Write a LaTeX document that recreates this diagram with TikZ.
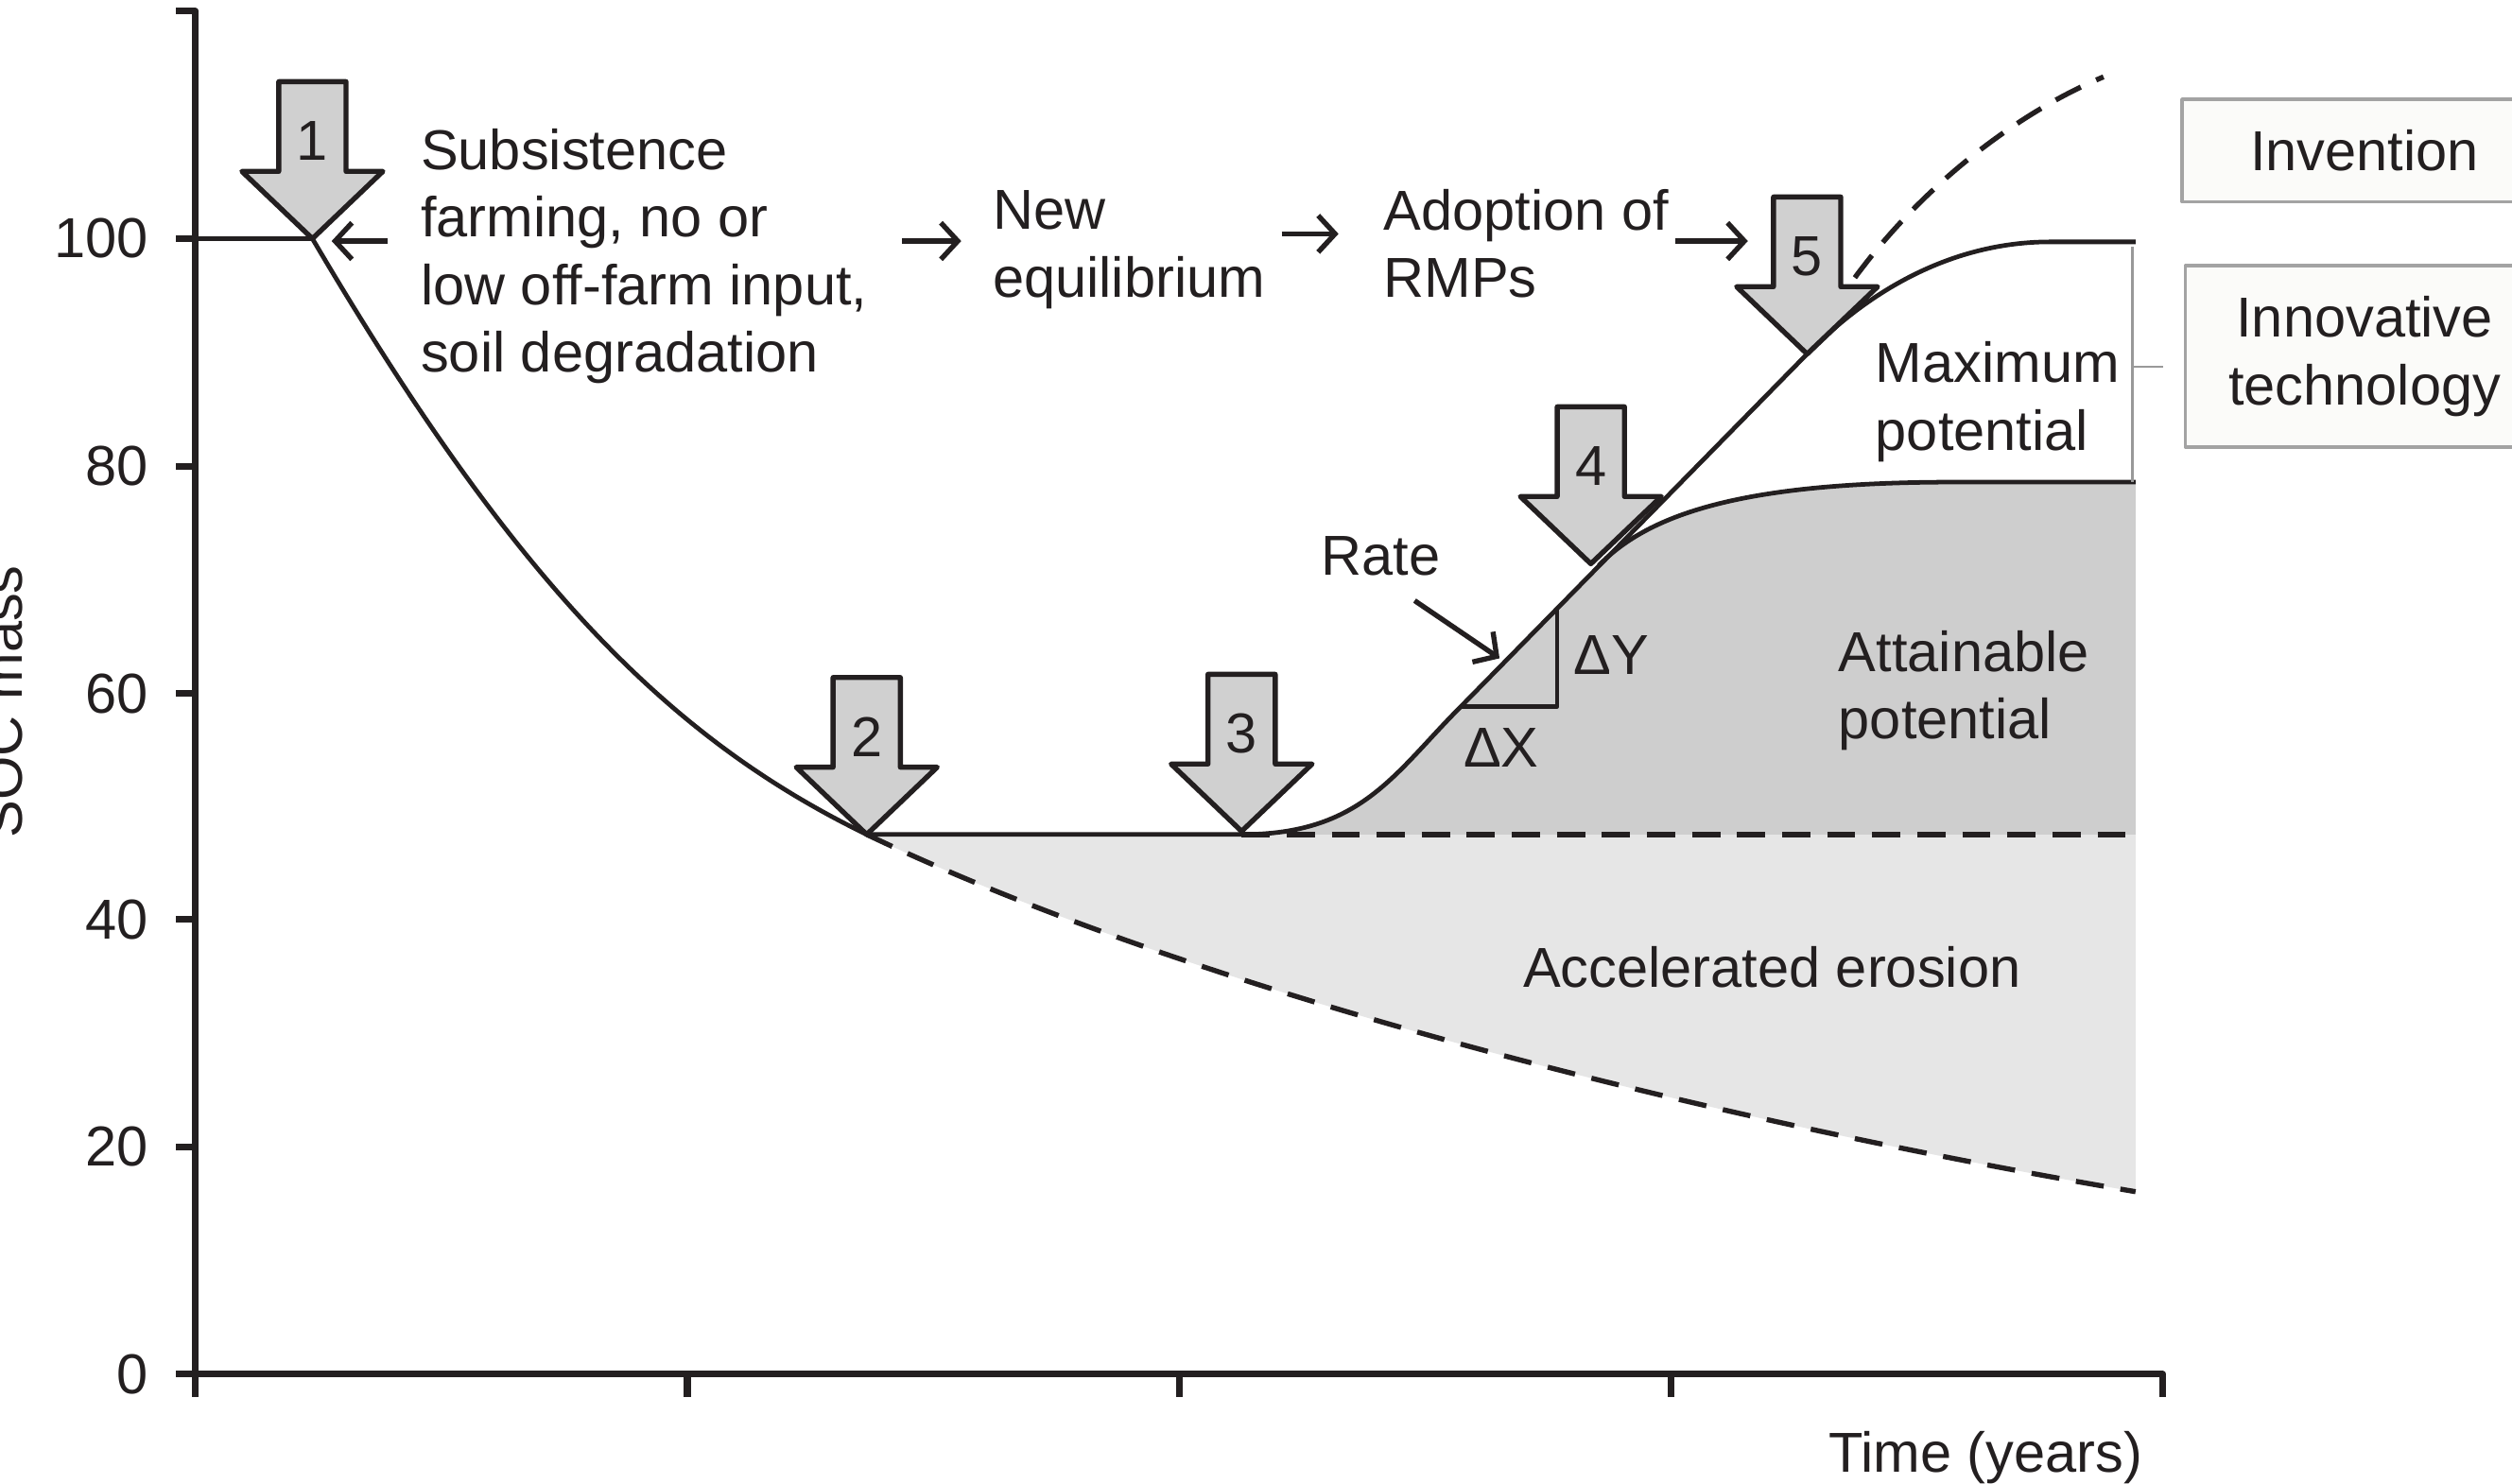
\documentclass[tikz,border=0pt]{standalone}
\usepackage{fontspec}
\setmainfont{Liberation Sans}
\usetikzlibrary{arrows.meta}
\definecolor{inkcol}{HTML}{231F20}
\definecolor{attfill}{HTML}{CECECE}
\definecolor{erofill}{HTML}{E6E6E6}
\definecolor{arrfill}{HTML}{D0D0D0}
\definecolor{boxline}{HTML}{A3A3A3}
\definecolor{boxfill}{HTML}{FBFBF9}
\begin{document}
\begin{tikzpicture}[line join=round, font=\fontsize{10}{12}\selectfont,
  txt/.style={inner sep=0pt, align=left, text=inkcol},
  tick label/.style={inner sep=0pt, anchor=east, text=inkcol},
  soc line/.style={draw=inkcol, line width=0.8pt},
  dashed line/.style={draw=inkcol, line width=0.9pt, dash pattern=on 5pt off 3pt},
  axis line/.style={draw=inkcol, line width=1.2pt},
  bracket line/.style={draw=gray!80, line width=0.4pt},
  small arrow/.style={draw=inkcol, line width=0.9pt, -{Straight Barb[length=3pt,width=6.5pt]}},
  tech box/.style={draw=boxline, fill=boxfill, line width=0.6pt, inner sep=0pt, align=center, text=inkcol},
  pics/soc arrow/.style={code={
    \draw[draw=inkcol, fill=arrfill, line width=0.9pt] (0,0) -- (-0.44,0.42) -- (-0.21,0.42) -- (-0.21,0.98) -- (0.21,0.98) -- (0.21,0.42) -- (0.44,0.42) -- cycle;
    \node[inner sep=0pt, text=inkcol] (-n) at (0,0.61) {#1};
  }}]
\useasboundingbox (0,0) rectangle (15.68,9.26);
% points on the curves
\coordinate (y100) at (1.22,7.77);
\coordinate (p1) at (1.95,7.77);
\coordinate (p2) at (5.41,4.05);
\coordinate (p3) at (7.75,4.05);
\coordinate (t1) at (9.12,4.85);
\coordinate (t2) at (9.72,4.85);
\coordinate (t3) at (9.72,5.46);
\coordinate (sp) at (9.98,5.73);
\coordinate (p5) at (11.28,7.05);
\coordinate (endtop) at (13.33,7.75);
\coordinate (endatt) at (13.33,6.25);
\coordinate (endeq) at (13.33,4.05);
\coordinate (endero) at (13.33,1.82);
\coordinate (endinv) at (13.13,8.78);
% shaded areas
\fill[erofill] (p2) -- (endeq) -- (endero) .. controls (10.5,2.3) and (7.4,3.1) .. (p2) -- cycle;
\fill[attfill] (p3) .. controls (8.5,4.05) and (8.7,4.43) .. (t1) -- (sp) .. controls (10.3,6.06) and (10.9,6.25) .. (12.2,6.25) -- (endatt) -- (endeq) -- cycle;
% dashed lines
\draw[dashed line] (p3) -- (endeq);
\draw[dashed line] (p2) .. controls (7.4,3.1) and (10.5,2.3) .. (endero);
\draw[dashed line] (p5) .. controls (11.75,7.95) and (12.55,8.54) .. (endinv);
% solid lines
\draw[soc line] (y100) -- (p1) .. controls (3.25,5.56) and (4.22,4.63) .. (p2) -- (p3);
\draw[soc line] (p3) .. controls (8.5,4.05) and (8.7,4.43) .. (t1) -- (p5) .. controls (11.68,7.46) and (12.2,7.75) .. (12.8,7.75) -- (endtop);
\draw[soc line] (sp) .. controls (10.3,6.06) and (10.9,6.25) .. (12.2,6.25) -- (endatt);
\draw[soc line] (t1) -- (t2) -- (t3);
% axes
\draw[axis line] (1.10,9.19) -- (1.22,9.19) -- (1.22,0.54);
\draw[axis line] (1.22,0.68) -- (13.50,0.68) -- (13.50,0.54);
\draw[axis line] (1.10,0.68) -- (1.22,0.68);
\draw[axis line] (1.10,2.10) -- (1.22,2.10);
\draw[axis line] (1.10,3.52) -- (1.22,3.52);
\draw[axis line] (1.10,4.93) -- (1.22,4.93);
\draw[axis line] (1.10,6.35) -- (1.22,6.35);
\draw[axis line] (1.10,7.77) -- (1.22,7.77);
\draw[axis line] (4.29,0.68) -- (4.29,0.54);
\draw[axis line] (7.36,0.68) -- (7.36,0.54);
\draw[axis line] (10.43,0.68) -- (10.43,0.54);
\node[tick label] (y0) at (0.93,0.68) {0};
\node[tick label] (y20) at (0.93,2.10) {20};
\node[tick label] (y40) at (0.93,3.52) {40};
\node[tick label] (y60) at (0.93,4.93) {60};
\node[tick label] (y80) at (0.93,6.35) {80};
\node[tick label] (y100l) at (0.93,7.77) {100};
\node[txt, rotate=90, anchor=south] (soc) at (0.15,4.88) {SOC mass};
\node[txt, anchor=east] (time) at (13.38,0.16) {Time (years)};
% the five stages
\pic (a1) at (p1) {soc arrow=1};
\pic (a2) at (p2) {soc arrow=2};
\pic (a3) at (7.75,4.07) {soc arrow=3};
\pic (a4) at (9.93,5.74) {soc arrow=4};
\pic (a5) at (p5) {soc arrow=5};
% texts
\node[txt, anchor=west] (subs) at (2.62,7.66) {Subsistence\\farming, no or\\low off-farm input,\\soil degradation};
\node[txt, anchor=west] (neweq) at (6.19,7.70) {New\\equilibrium};
\node[txt, anchor=west] (rmp) at (8.63,7.74) {Adoption of\\RMPs};
\node[txt, anchor=west] (maxpot) at (11.70,6.75) {Maximum\\potential};
\node[txt, anchor=west] (attpot) at (11.47,4.95) {Attainable\\potential};
\node[txt, anchor=west] (ero) at (9.50,3.22) {Accelerated erosion};
\node[txt, anchor=west] (rate) at (8.24,5.79) {Rate};
\node[txt] (dy) at (10.06,5.17) {ΔY};
\node[txt] (dx) at (9.37,4.59) {ΔX};
% small arrows
\coordinate (ar1s) at (2.42,7.755);
\coordinate (ar1e) at (2.07,7.755);
\coordinate (ar2s) at (5.63,7.755);
\coordinate (ar2e) at (6.00,7.755);
\coordinate (ar3s) at (8.00,7.80);
\coordinate (ar3e) at (8.355,7.80);
\coordinate (ar4s) at (10.46,7.755);
\coordinate (ar4e) at (10.91,7.755);
\coordinate (rates) at (8.83,5.51);
\coordinate (ratee) at (9.36,5.15);
\draw[small arrow] (ar1s) -- (ar1e);
\draw[small arrow] (ar2s) -- (ar2e);
\draw[small arrow] (ar3s) -- (ar3e);
\draw[small arrow] (ar4s) -- (ar4e);
\draw[small arrow] (rates) -- (ratee);
% technology boxes
\node[tech box, minimum width=2.28cm, minimum height=0.64cm] (inv) at (14.76,8.32) {Invention};
\node[tech box, minimum width=2.24cm, minimum height=1.13cm] (innov) at (14.76,7.035) {Innovative\\technology};
\coordinate (brtop) at (13.31,7.72);
\coordinate (brbot) at (13.31,6.25);
\coordinate (brmid) at (13.31,6.97);
\coordinate (brtip) at (13.50,6.97);
\draw[bracket line] (brtop) -- (brbot);
\draw[bracket line] (brmid) -- (brtip);
\end{tikzpicture}
\end{document}
